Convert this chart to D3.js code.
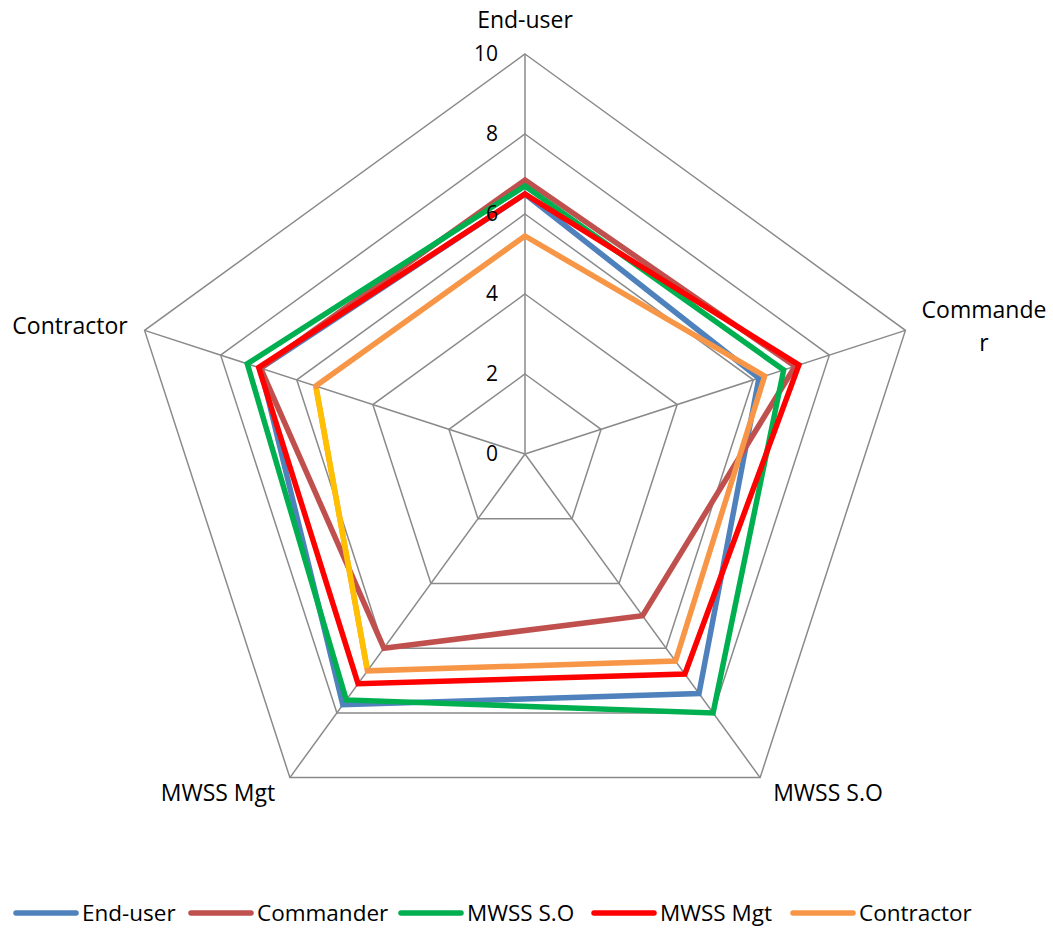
<!DOCTYPE html>
<html>
<head>
<meta charset="utf-8">
<script src="https://cdn.jsdelivr.net/npm/d3@7/dist/d3.min.js"></script>
<style>
  html, body { margin: 0; padding: 0; background: #fff; }
  svg { display: block; font-family: "Open Sans", "Noto Sans", sans-serif; }
</style>
</head>
<body>
<svg id="chart" width="1053" height="932"></svg>
<script>
// Radar axes (clockwise from top)
const axes = ["End-user", "Commander", "MWSS S.O", "MWSS Mgt", "Contractor"];
const tickValues = [0, 2, 4, 6, 8, 10];

// Ratings per respondent group, in axis order
const seriesNames = ["End-user", "Commander", "MWSS S.O", "MWSS Mgt", "Contractor"];
const endUser    = [6.5, 6.15, 7.4, 7.75, 6.95];
const commander  = [6.85, 7.1, 5.0, 6.0, 6.95];
const mwssSO     = [6.7, 6.8, 8.0, 7.6, 7.3];
const mwssMgt    = [6.5, 7.2, 6.8, 7.1, 7.0];
const contractor = [5.45, 6.3, 6.4, 6.7, 5.5];
const seriesValues = [endUser, commander, mwssSO, mwssMgt, contractor];

const colors = ["#4F81BD", "#C0504D", "#00B050", "#FF0000", "#F79646"];
const contractorEdgeColor = "#FFC000"; // Contractor → MWSS Mgt edge of the last series

const svg = d3.select("#chart");
const cx = 525, cy = 454, R = 400;

const r = d3.scaleLinear().domain([0, 10]).range([0, R]);
const angle = d3.scalePoint().domain(axes).range([0, 2 * Math.PI * (axes.length - 1) / axes.length]);

function pt(axis, v) {
  const a = angle(axis) - Math.PI / 2;
  return [cx + r(v) * Math.cos(a), cy + r(v) * Math.sin(a)];
}

const line = d3.line();
const gridColor = "#8A8A8A";

// Grid pentagons
const g = svg.append("g");
tickValues.filter(t => t > 0).forEach(t => {
  const pts = axes.map(a => pt(a, t));
  g.append("path")
    .attr("d", line(pts) + "Z")
    .attr("fill", "none")
    .attr("stroke", gridColor)
    .attr("stroke-width", 1.5);
});
// Spokes
axes.forEach(a => {
  const [x, y] = pt(a, 10);
  g.append("line")
    .attr("x1", cx).attr("y1", cy).attr("x2", x).attr("y2", y)
    .attr("stroke", gridColor).attr("stroke-width", 1.5);
});

// Axis labels
const labelPos = {
  "End-user":   { x: 525, y: 20, lines: ["End-user"] },
  "Commander":  { x: 984, y: 310, lines: ["Commande", "r"] },
  "MWSS S.O":   { x: 828, y: 793, lines: ["MWSS S.O"] },
  "MWSS Mgt":   { x: 218, y: 793, lines: ["MWSS Mgt"] },
  "Contractor": { x: 70, y: 326, lines: ["Contractor"] }
};
axes.forEach(a => {
  const p = labelPos[a];
  const t = svg.append("text")
    .attr("x", p.x).attr("y", p.y)
    .attr("text-anchor", "middle")
    .attr("font-size", 23)
    .attr("fill", "#000");
  p.lines.forEach((s, i) => {
    t.append("tspan").attr("x", p.x).attr("dy", i === 0 ? "0.35em" : "1.45em").text(s);
  });
});

// Series polygons
const sg = svg.append("g");
seriesValues.forEach((vals, i) => {
  const pts = axes.map((a, j) => pt(a, vals[j]));
  sg.append("path")
    .attr("d", line(pts) + "Z")
    .attr("fill", "none")
    .attr("stroke", colors[i])
    .attr("stroke-width", 5.5)
    .attr("stroke-linejoin", "miter");
});
// Highlighted edge of the Contractor series
{
  const pa = pt("MWSS Mgt", contractor[3]);
  const pb = pt("Contractor", contractor[4]);
  const dx = pb[0] - pa[0], dy = pb[1] - pa[1];
  const len = Math.hypot(dx, dy);
  const ux = dx / len, uy = dy / len;
  sg.append("line")
    .attr("x1", pa[0] + ux * 3).attr("y1", pa[1] + uy * 3)
    .attr("x2", pb[0] - ux * 3).attr("y2", pb[1] - uy * 3)
    .attr("stroke", contractorEdgeColor)
    .attr("stroke-width", 5.5);
}

// Tick labels along the top axis, drawn above the series
svg.append("g").selectAll("text").data(tickValues).join("text")
  .attr("x", cx - 27)
  .attr("y", d => cy - r(d))
  .attr("dy", "0.35em")
  .attr("text-anchor", "end")
  .attr("font-size", 21)
  .attr("fill", "#000")
  .text(d => d);

// Legend
const legendTextX = [82, 257, 467, 660, 859];
const lg = svg.append("g");
seriesNames.forEach((n, i) => {
  const x = legendTextX[i], y = 913;
  lg.append("line")
    .attr("x1", x - 66).attr("x2", x - 6).attr("y1", y).attr("y2", y)
    .attr("stroke", colors[i]).attr("stroke-width", 5.5)
    .attr("stroke-linecap", "round");
  lg.append("text")
    .attr("x", x).attr("y", y).attr("dy", "0.35em")
    .attr("font-size", 22.5).attr("fill", "#000")
    .text(n);
});
</script>
</body>
</html>
